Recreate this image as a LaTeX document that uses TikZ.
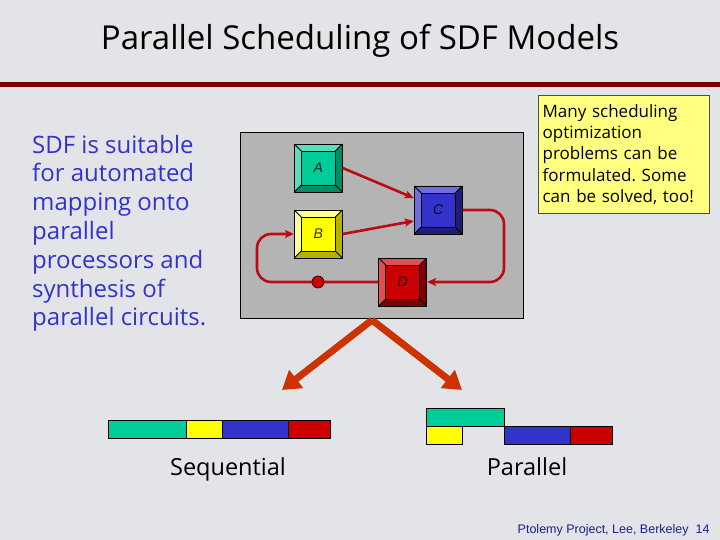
\documentclass[tikz,border=0pt]{standalone}
\usepackage{fontspec}
\setmainfont{Open Sans}
\newfontfamily\arialfont{Liberation Sans}
\usetikzlibrary{arrows.meta}
\frenchspacing

\definecolor{slidebg}{RGB}{226,228,232}
\definecolor{panelgray}{RGB}{180,180,180}
\definecolor{rulered}{RGB}{120,0,0}
\definecolor{notey}{RGB}{255,255,128}
\definecolor{textblue}{RGB}{51,51,204}
\definecolor{footblue}{RGB}{30,30,140}
\definecolor{linkred}{RGB}{190,10,20}
\definecolor{bigorange}{RGB}{204,51,0}
\definecolor{agreen}{RGB}{0,204,153}
\definecolor{agreenl}{RGB}{90,222,186}
\definecolor{agreend}{RGB}{0,140,100}
\definecolor{byellow}{RGB}{255,255,0}
\definecolor{byellowl}{RGB}{255,255,150}
\definecolor{byellowd}{RGB}{180,180,0}
\definecolor{cblue}{RGB}{51,51,204}
\definecolor{cbluel}{RGB}{110,110,225}
\definecolor{cblued}{RGB}{30,30,120}
\definecolor{dred}{RGB}{204,0,0}
\definecolor{dredl}{RGB}{225,80,80}
\definecolor{dredd}{RGB}{125,0,0}

\tikzset{
  actor/.style n args={3}{draw=black, line width=0.8pt, minimum size=48pt, inner sep=0pt,
    fill=#1, text=black!70!#3, font=\arialfont\itshape\fontsize{14}{14}\selectfont,
    path picture={
      \fill[#2] (path picture bounding box.north west) -- (path picture bounding box.north east)
        -- ([shift={(-7pt,-7pt)}]path picture bounding box.north east)
        -- ([shift={(7pt,-7pt)}]path picture bounding box.north west) -- cycle;
      \fill[#2] (path picture bounding box.north west) -- (path picture bounding box.south west)
        -- ([shift={(7pt,7pt)}]path picture bounding box.south west)
        -- ([shift={(7pt,-7pt)}]path picture bounding box.north west) -- cycle;
      \fill[#3] (path picture bounding box.south west) -- (path picture bounding box.south east)
        -- ([shift={(-7pt,7pt)}]path picture bounding box.south east)
        -- ([shift={(7pt,7pt)}]path picture bounding box.south west) -- cycle;
      \fill[#3] (path picture bounding box.north east) -- (path picture bounding box.south east)
        -- ([shift={(-7pt,7pt)}]path picture bounding box.south east)
        -- ([shift={(-7pt,-7pt)}]path picture bounding box.north east) -- cycle;
      \draw[black, line width=0.8pt] ([shift={(7pt,-7pt)}]path picture bounding box.north west)
        rectangle ([shift={(-7pt,7pt)}]path picture bounding box.south east);
      \draw[black, line width=0.8pt] (path picture bounding box.north west) -- ++(7pt,-7pt)
        (path picture bounding box.north east) -- ++(-7pt,-7pt)
        (path picture bounding box.south west) -- ++(7pt,7pt)
        (path picture bounding box.south east) -- ++(-7pt,7pt);
    }},
  conn/.style={draw=linkred, line width=2.6pt, rounded corners=14pt,
    -{Stealth[length=9pt,width=8pt,inset=2pt]}},
  bigarrow/.style={draw=bigorange, line width=7pt, -{Triangle[length=18pt,width=22pt]}},
  bar/.style={draw=black, line width=0.8pt},
  label/.style={font=\fontsize{23.5}{23.5}\selectfont, anchor=base}
}

\begin{document}
\begin{tikzpicture}[x=1pt, y=-1pt]
\useasboundingbox (0,0) rectangle (720,540);
\fill[slidebg] (0,0) rectangle (720,540);

\node[anchor=base, font=\fontsize{33}{33}\selectfont] (title) at (360,50) {Parallel Scheduling of SDF Models};
\fill[rulered] (0,82) rectangle (720,87);

\node[anchor=base west, align=left, text=textblue, inner sep=0pt,
  font=\fontsize{24}{28.8}\selectfont] (intro) at (32,325.8)
  {SDF is suitable\\for automated\\mapping onto\\parallel\\processors and\\synthesis of\\parallel circuits.};

\draw[fill=panelgray, line width=0.8pt] (240,132) rectangle (523,318);

\node[actor={agreen}{agreenl}{agreend}] (A) at (318.3,168) {A};
\node[actor={byellow}{byellowl}{byellowd}] (B) at (318.3,234) {B};
\node[actor={cblue}{cbluel}{cblued}] (C) at (438.2,210) {C};
\node[actor={dred}{dredl}{dredd}] (D) at (402.7,282) {D};
\coordinate (loopR) at (504,0);
\coordinate (loopL) at (257,0);

\draw[conn] (A.east) -- ([yshift=12pt]C.west);
\draw[conn] (B.east) -- ([yshift=-11pt]C.west);
\draw[conn] (C.east) -- (C.east -| loopR) -- (D.east -| loopR) -- (D.east);
\draw[conn] (D.west) -- (D.west -| loopL) -- (B.west -| loopL) -- (B.west);
\node[circle, draw=black, line width=0.6pt, fill=dred, minimum size=12pt, inner sep=0pt] (delay) at (318,282) {};

\node[draw=black!70, line width=1.2pt, fill=notey, anchor=north west, minimum width=171pt,
  minimum height=118pt, text width=163pt, align=left, inner sep=4pt,
  font=\fontsize{17}{21.2}\selectfont] (note) at (538,95)
  {Many scheduling\\optimization\\problems can be\\formulated. Some\\can be solved, too!};

\coordinate (apex) at (372,320);
\coordinate (seqtip) at (282,390);
\coordinate (partip) at (462,390);
\draw[bigarrow] (apex) -- (seqtip);
\draw[bigarrow] (apex) -- (partip);

\draw[bar, fill=agreen] (108.3,420) rectangle (186.7,438.3);
\draw[bar, fill=byellow] (186.7,420) rectangle (222.7,438.3);
\draw[bar, fill=cblue] (222.7,420) rectangle (288.7,438.3);
\draw[bar, fill=dred] (288.7,420) rectangle (330.7,438.3);
\node[label] (seq) at (228,475) {Sequential};

\draw[bar, fill=agreen] (426,408.3) rectangle (504.3,426.3);
\draw[bar, fill=byellow] (426,426.3) rectangle (462.3,444.3);
\draw[bar, fill=cblue] (504.3,426.3) rectangle (570.7,444.3);
\draw[bar, fill=dred] (570.7,426.3) rectangle (612.7,444.3);
\node[label] (par) at (527,475) {Parallel};

\node[anchor=base east, text=footblue, font=\arialfont\fontsize{12.5}{12.5}\selectfont] (foot) at (713,533)
  {Ptolemy Project, Lee, Berkeley\ \ 14};
\end{tikzpicture}
\end{document}
